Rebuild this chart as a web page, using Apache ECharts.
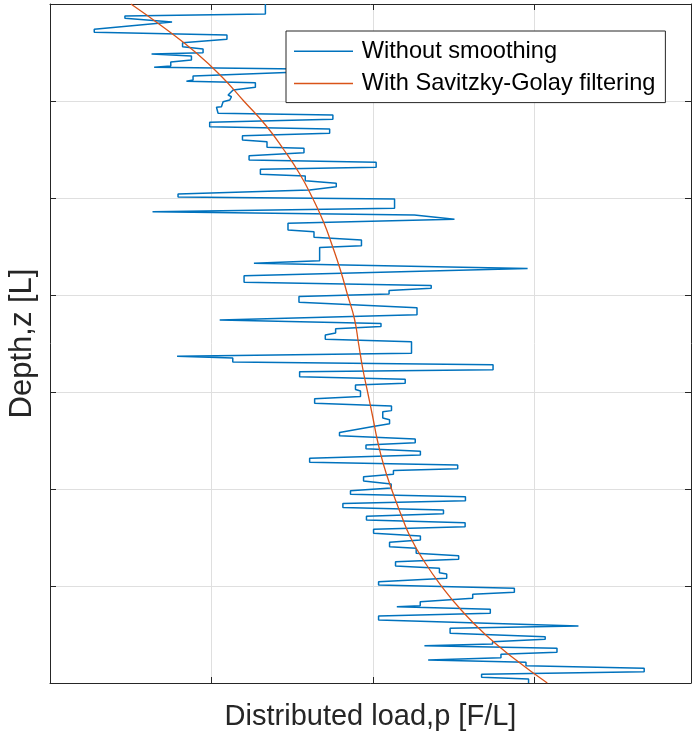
<!DOCTYPE html>
<html>
<head>
<meta charset="utf-8">
<script src="https://cdn.jsdelivr.net/npm/echarts@6/dist/echarts.min.js"></script>
<style>
  html, body { margin: 0; padding: 0; background: #ffffff; }
  #chart { width: 692px; height: 732px; }
</style>
</head>
<body>
<div id="chart"></div>
<script>
// Raw load profile: vertices of the piecewise profile (load, depth)
const rawLoad = [
  1.334,1.334,0.464,0.464,0.756,0.756,0.274,0.274,1.096,1.096,
  0.821,0.821,0.948,0.948,0.629,0.876,0.876,0.748,0.748,0.645,
  1.546,1.546,0.886,0.886,0.845,1.272,1.272,1.134,1.103,1.124,
  1.113,1.072,1.062,1.031,1.041,1.752,1.752,0.989,0.989,1.732,
  1.732,1.192,1.192,1.344,1.344,1.573,1.573,1.233,1.233,2.020,
  2.020,1.303,1.303,1.581,1.581,1.773,1.773,1.608,0.793,0.793,
  2.134,2.134,0.635,2.257,2.505,1.474,1.474,1.635,1.635,1.929,
  1.929,1.670,1.670,1.263,2.958,1.202,1.202,2.361,2.361,2.100,
  2.100,1.542,1.542,2.273,2.273,1.051,2.050,2.050,1.769,1.769,
  1.705,1.705,2.239,2.239,0.787,1.132,1.132,2.744,2.744,1.546,
  1.546,2.200,2.200,1.892,1.892,1.923,1.923,1.639,1.639,2.115,
  2.115,2.061,2.061,2.103,2.103,2.010,1.793,1.793,2.262,2.262,
  1.957,1.957,2.294,2.294,1.608,1.608,2.525,2.525,2.127,2.127,
  1.942,1.942,2.113,2.113,1.861,1.861,2.573,2.573,1.814,1.814,
  2.437,2.437,1.960,1.960,2.571,2.571,2.004,2.004,2.294,2.294,
  2.103,2.103,2.268,2.268,2.531,2.531,2.140,2.140,2.412,2.412,
  2.457,2.457,2.035,2.035,2.876,2.876,2.618,2.618,2.293,2.293,
  2.148,2.727,2.727,2.035,2.035,3.273,2.478,2.478,3.067,3.067,
  2.741,2.741,2.319,3.140,3.140,2.793,2.793,2.342,2.948,2.948,
  3.680,3.680,2.673,2.673,2.964,2.964
];
const rawDepth = [
  0.000,0.103,0.124,0.147,0.186,0.206,0.261,0.292,0.320,0.364,
  0.399,0.440,0.464,0.502,0.515,0.536,0.577,0.598,0.639,0.653,
  0.670,0.701,0.742,0.784,0.797,0.811,0.859,0.887,0.938,0.956,
  0.990,1.007,1.059,1.065,1.127,1.144,1.189,1.220,1.265,1.289,
  1.333,1.358,1.402,1.420,1.477,1.488,1.533,1.564,1.608,1.632,
  1.684,1.704,1.756,1.773,1.822,1.848,1.884,1.918,1.959,1.990,
  2.010,2.106,2.141,2.175,2.220,2.261,2.330,2.347,2.405,2.433,
  2.492,2.510,2.646,2.673,2.727,2.801,2.869,2.902,2.931,2.954,
  2.990,3.015,3.075,3.131,3.203,3.258,3.294,3.325,3.347,3.392,
  3.412,3.456,3.481,3.601,3.632,3.649,3.691,3.719,3.770,3.791,
  3.842,3.868,3.910,3.928,3.974,3.990,4.046,4.069,4.116,4.144,
  4.192,4.203,4.268,4.286,4.327,4.353,4.418,4.451,4.485,4.523,
  4.546,4.586,4.611,4.649,4.684,4.725,4.753,4.791,4.809,4.847,
  4.873,4.918,4.948,4.990,5.018,5.054,5.079,5.122,5.149,5.191,
  5.216,5.255,5.281,5.320,5.347,5.389,5.416,5.457,5.485,5.526,
  5.549,5.595,5.611,5.663,5.687,5.725,5.749,5.794,5.818,5.863,
  5.876,5.921,5.956,5.990,6.024,6.065,6.086,6.127,6.162,6.203,
  6.213,6.240,6.281,6.309,6.351,6.412,6.436,6.488,6.523,6.549,
  6.574,6.598,6.615,6.642,6.684,6.704,6.739,6.763,6.787,6.822,
  6.848,6.884,6.910,6.941,6.959,7.000
];

// Savitzky-Golay filtered profile
const sgDepth = [0,0.25,0.5,0.75,1,1.25,1.5,1.75,2,2.25,2.5,2.75,3,3.25,3.5,3.75,4,4.25,4.5,4.75,5,5.25,5.5,5.75,6,6.25,6.5,6.75,7];
const sgLoad  = [0.501,0.711,0.903,1.064,1.200,1.336,1.447,1.546,1.626,1.695,1.750,1.800,1.843,1.886,1.911,1.936,1.967,1.998,2.028,2.066,2.115,2.171,2.233,2.319,2.424,2.548,2.696,2.876,3.080];

const seriesNames = ['Without smoothing', 'With Savitzky-Golay filtering'];
const xTitle = 'Distributed load,p [F/L]';
const yTitle = 'Depth,z [L]';

const FONT = 'Liberation Sans, Arial, Helvetica, sans-serif';
const AXIS_COLOR = '#262626';
const GRID_COLOR = '#dfdfdf';
const BLUE = '#0072BD';
const RED = '#D95319';

const rawPairs = rawLoad.map((v, i) => [v, rawDepth[i]]);
const sgPairs = sgLoad.map((v, i) => [v, sgDepth[i]]);

const xRange = { min: 0, max: 3.97, interval: 1 };
const yRange = { min: 0, max: 7, interval: 1 };

// one side of the boxed frame: line plus inward ticks, no labels
function boxAxis(extra) {
  return Object.assign({
    type: 'value',
    axisLine: { show: true, onZero: false, lineStyle: { color: AXIS_COLOR, width: 1 } },
    axisTick: { show: true, inside: true, length: 6, lineStyle: { color: AXIS_COLOR, width: 1 } },
    axisLabel: { show: false },
    splitLine: { show: false }
  }, extra);
}

const chart = echarts.init(document.getElementById('chart'), null, { renderer: 'canvas' });
chart.setOption({
  animation: false,
  backgroundColor: '#ffffff',
  grid: { left: 50, right: 1, top: 4, bottom: 49, containLabel: false, outerBoundsMode: 'none' },
  xAxis: [
    boxAxis(Object.assign({}, xRange, {
      position: 'bottom',
      name: xTitle,
      nameLocation: 'middle',
      nameGap: 18,
      nameTextStyle: { fontFamily: FONT, fontSize: 29, color: AXIS_COLOR, verticalAlign: 'top', lineHeight: 32 },
      splitLine: { show: true, lineStyle: { color: GRID_COLOR, width: 1 } }
    })),
    boxAxis(Object.assign({}, xRange, { position: 'top' }))
  ],
  yAxis: [
    boxAxis(Object.assign({}, yRange, {
      inverse: true,
      position: 'left',
      name: yTitle,
      nameLocation: 'middle',
      nameGap: 12,
      nameRotate: 90,
      nameTextStyle: { fontFamily: FONT, fontSize: 31, color: AXIS_COLOR },
      splitLine: { show: true, lineStyle: { color: GRID_COLOR, width: 1 } }
    })),
    boxAxis(Object.assign({}, yRange, { inverse: true, position: 'right' }))
  ],
  legend: {
    orient: 'vertical',
    left: 286,
    top: 31,
    padding: [8, 10, 7, 8],
    icon: 'rect',
    itemWidth: 59,
    itemHeight: 1.5,
    itemGap: 8,
    backgroundColor: '#ffffff',
    borderColor: AXIS_COLOR,
    borderWidth: 1,
    borderRadius: 0,
    data: [
      { name: seriesNames[0], itemStyle: { color: BLUE } },
      { name: seriesNames[1], itemStyle: { color: RED } }
    ],
    textStyle: { fontFamily: FONT, fontSize: 23.6, color: '#000000', lineHeight: 24.3, padding: [0, 0, 0, 3.7] }
  },
  series: [
    {
      name: seriesNames[0],
      type: 'line',
      data: rawPairs,
      symbol: 'none',
      smooth: false,
      clip: true,
      lineStyle: { color: BLUE, width: 1.5 },
      itemStyle: { color: BLUE },
      z: 2
    },
    {
      name: seriesNames[1],
      type: 'line',
      data: sgPairs,
      symbol: 'none',
      smooth: true,
      clip: true,
      lineStyle: { color: RED, width: 1.3 },
      itemStyle: { color: RED },
      z: 3
    }
  ]
});
</script>
</body>
</html>
